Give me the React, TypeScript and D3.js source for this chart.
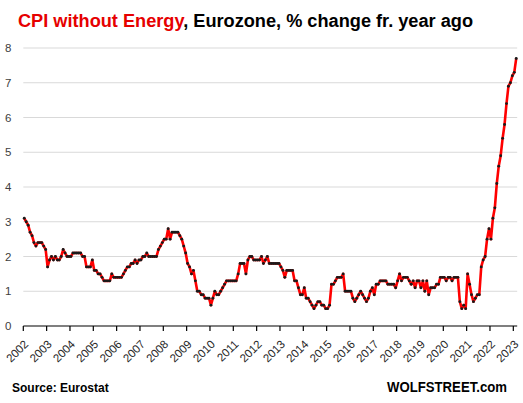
import React from "react";
import * as d3 from "d3";

const yearLabels = ["2002","2003","2004","2005","2006","2007","2008","2009","2010","2011","2012","2013","2014","2015","2016","2017","2018","2019","2020","2021","2022","2023"];
const yTicks = [0, 1, 2, 3, 4, 5, 6, 7, 8];

const v2002 = [3.1, 3.0, 2.9, 2.7, 2.6, 2.4, 2.3, 2.4, 2.4, 2.4, 2.3, 2.2];
const v2003 = [1.7, 1.9, 2.0, 1.9, 2.0, 1.9, 1.9, 2.0, 2.2, 2.1, 2.0, 2.0];
const v2004 = [2.0, 2.1, 2.1, 2.1, 2.1, 2.1, 2.0, 2.0, 1.7, 1.7, 1.7, 1.9];
const v2005 = [1.6, 1.6, 1.5, 1.5, 1.4, 1.3, 1.3, 1.3, 1.3, 1.5, 1.4, 1.4];
const v2006 = [1.4, 1.4, 1.4, 1.5, 1.6, 1.7, 1.7, 1.8, 1.8, 1.9, 1.8, 1.9];
const v2007 = [1.9, 2.0, 2.0, 2.1, 2.0, 2.0, 2.0, 2.0, 2.0, 2.2, 2.3, 2.4];
const v2008 = [2.5, 2.5, 2.8, 2.5, 2.7, 2.7, 2.7, 2.7, 2.6, 2.5, 2.3, 2.1];
const v2009 = [1.8, 1.7, 1.5, 1.6, 1.3, 1.0, 1.0, 0.9, 0.9, 0.8, 0.8, 0.8];
const v2010 = [0.6, 0.8, 1.0, 0.9, 0.9, 1.0, 1.1, 1.2, 1.3, 1.3, 1.3, 1.3];
const v2011 = [1.3, 1.3, 1.5, 1.8, 1.8, 1.8, 1.5, 1.9, 2.0, 2.0, 1.9, 1.9];
const v2012 = [1.9, 1.9, 2.0, 1.8, 1.9, 2.0, 1.8, 1.8, 1.8, 1.8, 1.8, 1.8];
const v2013 = [1.7, 1.6, 1.4, 1.6, 1.6, 1.6, 1.6, 1.3, 1.3, 1.1, 0.9, 0.9];
const v2014 = [1.1, 0.8, 0.8, 0.7, 0.6, 0.5, 0.6, 0.7, 0.7, 0.6, 0.6, 0.5];
const v2015 = [0.5, 0.6, 1.2, 1.2, 1.3, 1.4, 1.4, 1.4, 1.5, 1.0, 1.0, 1.0];
const v2016 = [1.0, 0.8, 0.7, 0.8, 0.9, 1.0, 0.9, 0.8, 0.7, 0.8, 1.0, 1.1];
const v2017 = [0.9, 1.2, 1.2, 1.3, 1.3, 1.3, 1.3, 1.2, 1.2, 1.2, 1.2, 1.1];
const v2018 = [1.3, 1.5, 1.3, 1.4, 1.4, 1.4, 1.3, 1.2, 1.3, 1.1, 1.3, 1.3];
const v2019 = [1.1, 1.3, 1.0, 1.3, 0.9, 1.1, 1.1, 1.1, 1.2, 1.2, 1.4, 1.4];
const v2020 = [1.4, 1.3, 1.4, 1.4, 1.3, 1.4, 1.4, 1.4, 0.7, 0.5, 0.6, 0.5];
const v2021 = [1.5, 1.2, 0.9, 0.7, 0.8, 0.9, 0.9, 1.7, 1.9, 2.0, 2.5, 2.8];
const v2022 = [2.5, 3.1, 3.4, 4.1, 4.6, 4.9, 5.4, 5.8, 6.4, 6.9, 7.0, 7.2];
const v2023 = [7.3, 7.7];

const values: number[] = [
  ...v2002, ...v2003, ...v2004, ...v2005, ...v2006, ...v2007, ...v2008,
  ...v2009, ...v2010, ...v2011, ...v2012, ...v2013, ...v2014, ...v2015,
  ...v2016, ...v2017, ...v2018, ...v2019, ...v2020, ...v2021, ...v2022, ...v2023,
];

const W = 523;
const H = 403;
const X0 = 23.3;
const X1 = 517.2;
const Y0 = 326;
const Y8 = 48;

export default function App() {
  const idx = values.map((_, i) => i);
  const x = d3.scaleBand<number>().domain(idx).range([X0, X1]).padding(0);
  const cx = (i: number) => (x(i) as number) + x.bandwidth() / 2;
  const y = d3.scaleLinear().domain([0, 8]).range([Y0, Y8]);
  const line = d3
    .line<number>()
    .x((_, i) => cx(i))
    .y((d) => y(d));
  const tickIdx = yearLabels.map((_, k) => k * 12);

  return (
    <svg
      width={W}
      height={H}
      style={{ position: "absolute", left: 0, top: 0, background: "#fff" }}
      fontFamily="'Liberation Sans', Arial, sans-serif"
    >
      <text
        x={18}
        y={27}
        fontSize={18}
        fontWeight="bold"
        textLength={455}
        lengthAdjust="spacingAndGlyphs"
      >
        <tspan fill="#e60000">CPI without Energy</tspan>
        <tspan fill="#000">, Eurozone,  % change fr. year ago</tspan>
      </text>

      {yTicks.map((t) => (
        <g key={t}>
          {t > 0 && (
            <line x1={X0} x2={X1} y1={y(t)} y2={y(t)} stroke="#d9d9d9" strokeWidth={1} />
          )}
          <text x={5} y={y(t)} dy="0.35em" fontSize={11.5} fill="#404040">
            {t}
          </text>
        </g>
      ))}

      <line x1={X0} x2={X1} y1={Y0} y2={Y0} stroke="#000" strokeWidth={1.2} />
      {tickIdx.map((i) => (
        <line
          key={i}
          x1={x(i) as number}
          x2={x(i) as number}
          y1={Y0}
          y2={Y0 + 5}
          stroke="#000"
          strokeWidth={1.2}
        />
      ))}
      {tickIdx.map((i, k) => {
        const tx = (x(i) as number) + 3;
        const ty = Y0 + 16;
        return (
          <text
            key={k}
            transform={`translate(${tx},${ty}) rotate(-45)`}
            textAnchor="end"
            dy="0.35em"
            fontSize={11.5}
            fill="#262626"
          >
            {yearLabels[k]}
          </text>
        );
      })}

      <path d={line(values) || ""} fill="none" stroke="#ff0000" strokeWidth={2.6} strokeLinejoin="round" />
      {values.map((v, i) => (
        <circle key={i} cx={cx(i)} cy={y(v)} r={1.45} fill="#1a1a1a" />
      ))}

      <text x={12} y={392} fontSize={12} fontWeight="bold" fill="#000">
        Source: Eurostat
      </text>
      <text
        x={387}
        y={392}
        fontSize={14}
        fontWeight="bold"
        fill="#000"
        textLength={120}
        lengthAdjust="spacingAndGlyphs"
      >
        WOLFSTREET.com
      </text>
    </svg>
  );
}
